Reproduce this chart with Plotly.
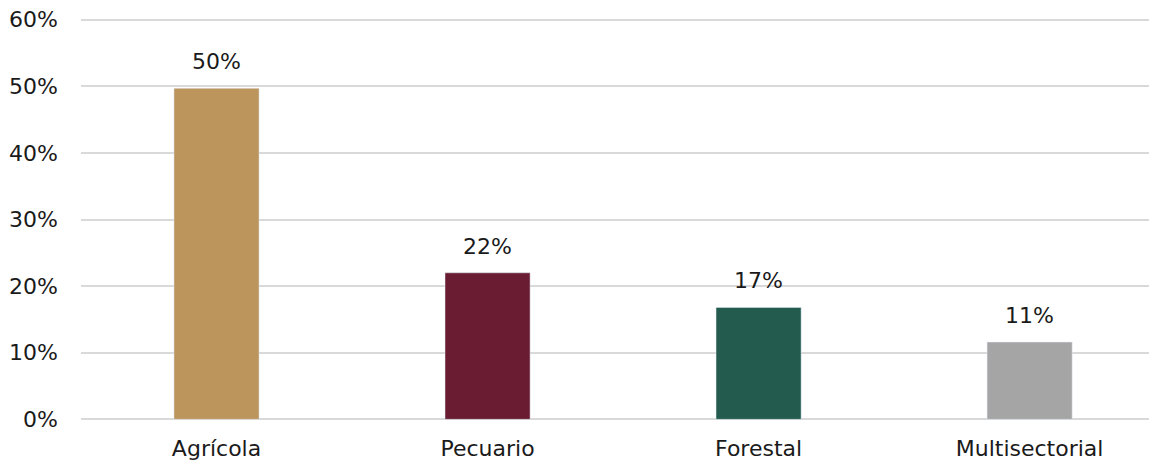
import plotly.graph_objects as go

categorias = ['Agrícola', 'Pecuario', 'Forestal', 'Multisectorial']
porcentajes = [49.7, 22.0, 16.8, 11.6]
etiquetas = ['50%', '22%', '17%', '11%']
colores = ['#BC955C', '#691C32', '#235B4E', '#A5A5A5']
ticks_y = [0, 10, 20, 30, 40, 50, 60]
ticks_y_texto = ['0%', '10%', '20%', '30%', '40%', '50%', '60%']

fuente = 'DejaVu Sans'
color_texto = '#1a1a1a'

fig = go.Figure()
fig.add_trace(go.Bar(x=categorias, y=porcentajes, marker_color=colores, width=0.314))
for cat, val, txt in zip(categorias, porcentajes, etiquetas):
    fig.add_annotation(x=cat, y=val, text=txt, showarrow=False, yanchor='bottom', yshift=12,
                       font=dict(family=fuente, size=22, color=color_texto))
# la página tiene 8px de margen en el body
fig.update_layout(width=1149, height=456, margin=dict(l=73, r=0, t=9, b=42),
                  plot_bgcolor='white', paper_bgcolor='white', showlegend=False,
                  font=dict(family=fuente, size=22, color=color_texto))
fig.update_xaxes(range=[-0.5, 3.47], showgrid=False, ticks='', automargin=False,
                 ticklabelstandoff=11, tickfont=dict(size=22))
fig.update_yaxes(range=[-0.4, 60.4], tickvals=ticks_y, ticktext=ticks_y_texto, showgrid=True,
                 gridcolor='#d9d9d9', gridwidth=2, zeroline=False, ticks='', automargin=False,
                 ticklabelstandoff=22, ticklabeloverflow='allow', tickfont=dict(size=22))
fig.write_html('out.html')
